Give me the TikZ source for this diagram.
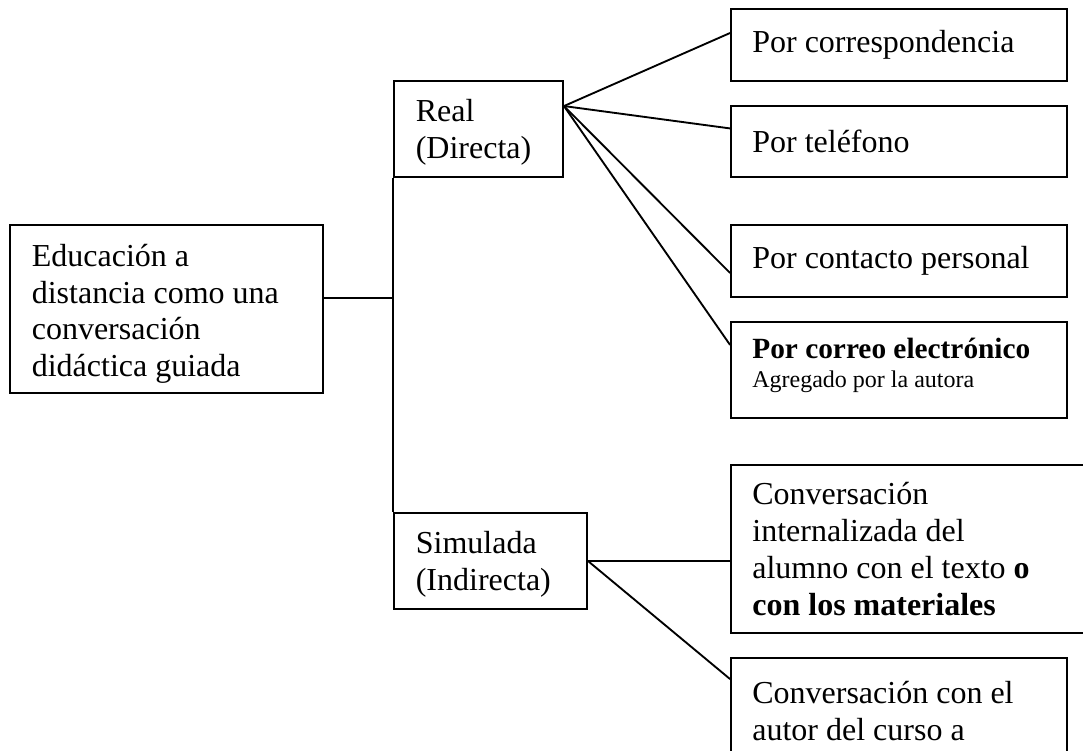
\documentclass[tikz,border=0pt]{standalone}
\usepackage{fontspec}
\setmainfont{Liberation Serif}
\usepackage{tikz}
\tikzstyle{box}=[draw, inner xsep=8pt, inner ysep=0pt, align=flush left, font=\fontsize{12}{13.8}\selectfont]
\tikzstyle{rbox}=[box, minimum width=126pt, text width=110pt]

\begin{document}
\begin{tikzpicture}[x=0.375pt, y=-0.375pt, line width=0.7pt]
        \useasboundingbox (0,0) rectangle (1083,751);
        \clip (0,0) rectangle (1083,751);
        \node[box, minimum width=117.4pt, minimum height=63pt, text width=101pt, text height=12pt] (edu) at (166.5,309) {Educación a\\distancia como una\\conversación\\didáctica guiada};
        \node[box, minimum width=63.4pt, minimum height=36pt, text width=47pt, text height=10.6pt] (real) at (478.5,129) {Real\\(Directa)};
        \node[box, minimum width=72.4pt, minimum height=36pt, text width=56pt, text height=10.6pt] (sim) at (490.5,561) {Simulada\\(Indirecta)};
        \node[rbox, minimum height=27pt] (corr) at (899,45) {Por correspondencia};
        \node[rbox, minimum height=26.6pt] (tel) at (899,141.5) {Por teléfono};
        \node[rbox, minimum height=27pt] (cont) at (899,261) {Por contacto personal};
        \node[rbox, minimum height=36pt, text height=4pt] (mail) at (899,370) {\mbox{\fontsize{11}{12.65}\selectfont\textbf{Por correo electrónico}}\\[-2.9pt]{\fontsize{9}{10.35}\selectfont Agregado por la autora}};
        \node[box, minimum width=134.6pt, minimum height=63pt, text width=118.6pt] (intern) at (910.5,549) {Conversación\\internalizada del\\alumno con el texto \textbf{o}\\\textbf{con los materiales}};
        \node[rbox, minimum height=39.75pt] (autor) at (899,711) {Conversación con el\\autor del curso a};
        \draw ([yshift=4.1pt]edu.east) -- ([yshift=4.1pt]edu.east -| real.west);
        \draw (real.south west) -- (sim.north west);
        \coordinate (rp) at ([yshift=8.6pt]real.east);
        \draw (rp) -- ([yshift=4.5pt]corr.west);
        \draw (rp) -- ([yshift=4.9pt]tel.west);
        \draw (rp) -- ([yshift=-4.5pt]cont.west);
        \draw (rp) -- ([yshift=9.4pt]mail.west);
        \draw (sim.east) -- (sim.east -| intern.west);
        \draw (sim.east) -- ([yshift=-8.25pt]autor.north west);
    \end{tikzpicture}
\end{document}
